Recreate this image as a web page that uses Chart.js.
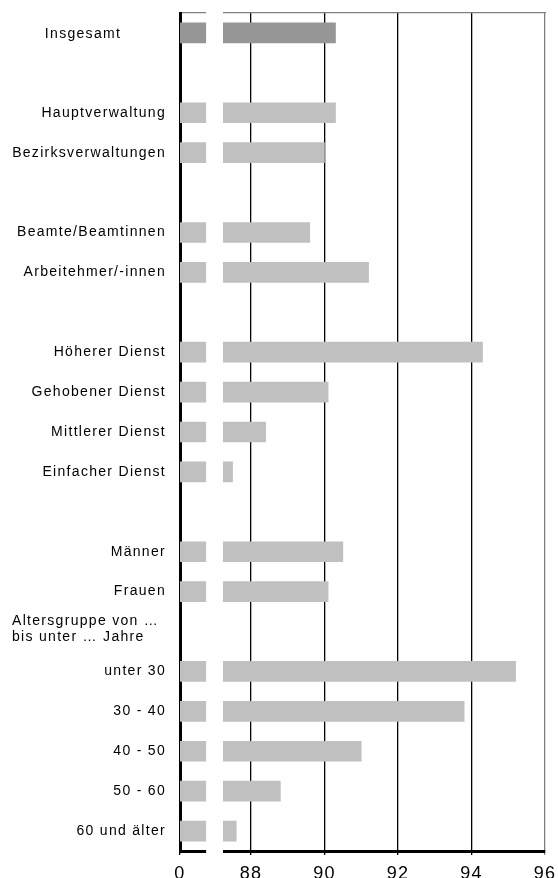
<!DOCTYPE html>
<html lang="de">
<head>
<meta charset="utf-8">
<title>Insgesamt</title>
<script src="https://cdn.jsdelivr.net/npm/chart.js@4.4.1/dist/chart.umd.min.js"></script>
<style>
  html, body { margin: 0; padding: 0; background: #fff; overflow: hidden; }
  canvas { display: block; }
</style>
</head>
<body>
<canvas id="chart" width="558" height="900"></canvas>
<script>
// Zeilen (leere Einträge = Abstand zwischen den Gruppen)
const categories = [
  "Insgesamt", "",
  "Hauptverwaltung", "Bezirksverwaltungen", "",
  "Beamte/Beamtinnen", "Arbeitehmer/-innen", "",
  "Höherer Dienst", "Gehobener Dienst", "Mittlerer Dienst", "Einfacher Dienst", "",
  "Männer", "Frauen",
  ["Altersgruppe von …", "bis unter … Jahre"],
  "unter 30", "30 - 40", "40 - 50", "50 - 60", "60 und älter"
];
const values = [
  90.3, null,
  90.3, 90.0, null,
  89.6, 91.2, null,
  94.3, 90.1, 88.4, 87.5, null,
  90.5, 90.1,
  null,
  95.2, 93.8, 91.0, 88.8, 87.6
];

// Achse mit Bruch: Stummel ab 0, dann 88 ... 96
const axisMin = 86.07;
const axisMax = 96;
const tickValues = [86.07, 88, 90, 92, 94, 96];
const tickLabels = ["0", "88", "90", "92", "94", "96"];
const breakFrom = 86.78;
const breakTo = 87.24;

const FONT = '"Liberation Sans", Arial, sans-serif';
Chart.defaults.font.family = FONT;
Chart.defaults.color = "#000";

// Zeilen, deren Beschriftung extra gezeichnet wird
const ownLabels = [0, 15];

// keine automatische Randvergrößerung durch die Beschriftungen
function noLabelPadding(scale) {
  scale.paddingLeft = 0;
  scale.paddingRight = 0;
  scale.paddingTop = 0;
  scale.paddingBottom = 0;
}

const breakPlugin = {
  id: "achsenbruch",
  beforeDraw(chart) {
    chart.ctx.letterSpacing = "1.3px";
  },
  afterDatasetsDraw(chart) {
    const { ctx, chartArea, scales } = chart;
    const x1 = scales.x.getPixelForValue(breakFrom);
    const x2 = scales.x.getPixelForValue(breakTo);
    ctx.save();
    ctx.fillStyle = "#fff";
    ctx.fillRect(x1, chartArea.top - 3, x2 - x1, chartArea.bottom - chartArea.top + 6);
    ctx.restore();
  },
  afterDraw(chart) {
    const ctx = chart.ctx;
    const y = chart.scales.y;
    ctx.save();
    ctx.font = "14px " + FONT;
    ctx.fillStyle = "#000";
    ctx.textBaseline = "middle";

    // Insgesamt steht mittig
    ctx.textAlign = "center";
    ctx.fillText(categories[0], 83, y.getPixelForValue(0) + 1);

    // Überschrift Altersgruppe, linksbündig
    const lines = categories[15];
    const yc = y.getPixelForValue(15);
    ctx.textAlign = "left";
    ctx.fillText(lines[0], 12, yc - 10);
    ctx.fillText(lines[1], 12, yc + 6);
    ctx.restore();
  }
};

new Chart(document.getElementById("chart"), {
  type: "bar",
  data: {
    labels: categories,
    datasets: [{
      data: values,
      xAxisID: "x",
      yAxisID: "y",
      backgroundColor: categories.map((_, i) => i === 0 ? "#969696" : "#c0c0c0"),
      borderWidth: 0,
      barThickness: 20
    }]
  },
  options: {
    indexAxis: "y",
    responsive: false,
    animation: false,
    layout: { autoPadding: false, padding: { left: 0, right: 13, top: 13, bottom: 9 } },
    plugins: {
      legend: { display: false },
      tooltip: { enabled: false }
    },
    scales: {
      x: {
        type: "linear",
        position: "bottom",
        min: axisMin,
        max: axisMax,
        afterBuildTicks: (scale) => {
          scale.ticks = tickValues.map(v => ({ value: v }));
        },
        afterFit: (scale) => {
          scale.height = 40;
          noLabelPadding(scale);
        },
        ticks: {
          padding: 8,
          font: { size: 18 },
          color: "#000",
          callback: (value, index) => tickLabels[index]
        },
        grid: {
          lineWidth: 1.3,
          tickLength: 4,
          color: (c) => c.tick && c.tick.value === axisMax ? "#808080" : "#000"
        },
        border: { color: "#000", width: 3 }
      },
      x2: {
        type: "linear",
        position: "top",
        afterFit: (scale) => {
          scale.height = 0;
          noLabelPadding(scale);
        },
        grid: { display: false, drawTicks: false },
        ticks: { display: false },
        border: { color: "#808080", width: 1.3 }
      },
      y: {
        type: "category",
        position: "left",
        afterFit: (scale) => {
          scale.width = 180;
          noLabelPadding(scale);
        },
        ticks: {
          padding: 14,
          font: { size: 14 },
          color: "#000",
          autoSkip: false,
          callback: function (value, index) {
            return ownLabels.includes(index) ? "" : this.getLabelForValue(value);
          }
        },
        grid: { display: false, drawTicks: false },
        border: { color: "#000", width: 3 }
      }
    }
  },
  plugins: [breakPlugin]
});
</script>
</body>
</html>
